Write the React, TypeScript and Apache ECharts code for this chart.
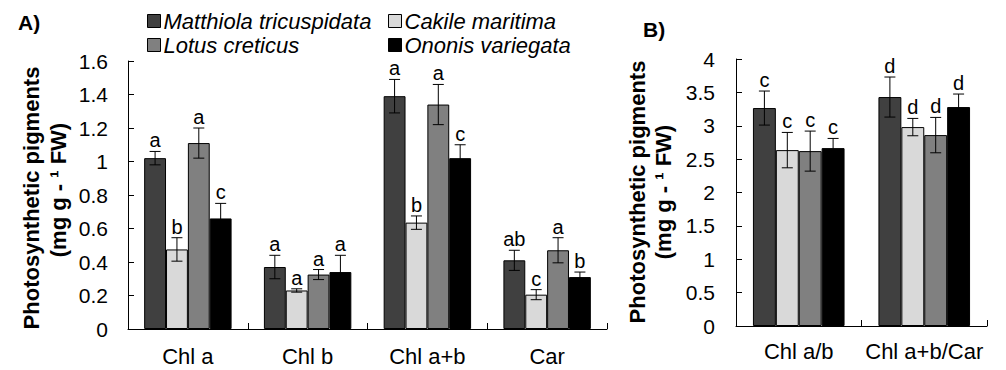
import React, { useEffect, useRef } from "react";
import * as echarts from "echarts";

const seriesNames = ["Matthiola tricuspidata", "Cakile maritima", "Lotus creticus", "Ononis variegata"];
const seriesColors = ["#404040", "#d9d9d9", "#808080", "#000000"];

const categoriesA = ["Chl a", "Chl b", "Chl a+b", "Car"];
const matthiolaA = [1.02, 0.37, 1.39, 0.41];
const cakileA = [0.475, 0.23, 0.635, 0.205];
const lotusA = [1.11, 0.325, 1.34, 0.47];
const ononisA = [0.66, 0.34, 1.02, 0.31];
const matthiolaErrA = [0.04, 0.07, 0.1, 0.06];
const cakileErrA = [0.07, 0.01, 0.04, 0.03];
const lotusErrA = [0.09, 0.03, 0.12, 0.075];
const ononisErrA = [0.09, 0.1, 0.08, 0.03];
const matthiolaLetA = ["a", "a", "a", "ab"];
const cakileLetA = ["b", "a", "b", "c"];
const lotusLetA = ["a", "a", "a", "a"];
const ononisLetA = ["c", "a", "c", "b"];

const categoriesB = ["Chl a/b", "Chl a+b/Car"];
const matthiolaB = [3.265, 3.43];
const cakileB = [2.635, 2.98];
const lotusB = [2.62, 2.86];
const ononisB = [2.665, 3.28];
const matthiolaErrB = [0.255, 0.3];
const cakileErrB = [0.265, 0.13];
const lotusErrB = [0.3, 0.265];
const ononisErrB = [0.145, 0.195];
const matthiolaLetB = ["c", "d"];
const cakileLetB = ["c", "d"];
const lotusLetB = ["c", "d"];
const ononisLetB = ["c", "d"];

const yTicksA = { min: 0, max: 1.6, interval: 0.2 };
const yTicksB = { min: 0, max: 4, interval: 0.5 };

const FONT = '"Liberation Sans", Arial, sans-serif';
const GAP = 0.27;

export default function App() {
  const ref = useRef<HTMLDivElement>(null);
  useEffect(() => {
    if (!ref.current) return;
    const chart = echarts.init(ref.current, undefined, { renderer: "svg" });

    const valsA = [matthiolaA, cakileA, lotusA, ononisA];
    const errsA = [matthiolaErrA, cakileErrA, lotusErrA, ononisErrA];
    const letsA = [matthiolaLetA, cakileLetA, lotusLetA, ononisLetA];
    const valsB = [matthiolaB, cakileB, lotusB, ononisB];
    const errsB = [matthiolaErrB, cakileErrB, lotusErrB, ononisErrB];
    const letsB = [matthiolaLetB, cakileLetB, lotusLetB, ononisLetB];

    const makeErr = (idx: number, axis: number, vals: number[], errs: number[], lets: string[]) => ({
      type: "custom",
      xAxisIndex: axis,
      yAxisIndex: axis,
      z: 5,
      silent: true,
      data: vals.map((v, i) => [i, v, errs[i]]),
      renderItem: (params: any, api: any) => {
        const cat = api.value(0);
        const v = api.value(1);
        const e = api.value(2);
        const band = api.size([1, 0])[0];
        const group = band * (1 - GAP);
        const bw = group / 4;
        const cx = api.coord([cat, 0])[0] - group / 2 + bw * (idx + 0.5);
        const yt = api.coord([cat, v + e])[1];
        const yb = api.coord([cat, v - e])[1];
        const cap = 5.5;
        const ls = { stroke: "#000", lineWidth: 1 };
        return {
          type: "group",
          children: [
            { type: "line", shape: { x1: cx, y1: yt, x2: cx, y2: yb }, style: ls },
            { type: "line", shape: { x1: cx - cap, y1: yt, x2: cx + cap, y2: yt }, style: ls },
            { type: "line", shape: { x1: cx - cap, y1: yb, x2: cx + cap, y2: yb }, style: ls },
            {
              type: "text",
              x: cx,
              y: yt - 1,
              style: {
                text: lets[params.dataIndex],
                fill: "#000",
                font: `20px ${FONT}`,
                align: "center",
                verticalAlign: "bottom",
              },
            },
          ],
        };
      },
    });

    const series: any[] = [];
    for (let k = 0; k < 4; k++) {
      series.push({
        name: seriesNames[k],
        type: "bar",
        xAxisIndex: 0,
        yAxisIndex: 0,
        data: valsA[k],
        barGap: "0%",
        barCategoryGap: "27%",
        itemStyle: { color: seriesColors[k], borderColor: "#000", borderWidth: 1 },
      });
    }
    for (let k = 0; k < 4; k++) {
      series.push({
        name: seriesNames[k],
        type: "bar",
        xAxisIndex: 1,
        yAxisIndex: 1,
        data: valsB[k],
        barGap: "0%",
        barCategoryGap: "27%",
        itemStyle: { color: seriesColors[k], borderColor: "#000", borderWidth: 1 },
      });
    }
    for (let k = 0; k < 4; k++) series.push(makeErr(k, 0, valsA[k], errsA[k], letsA[k]));
    for (let k = 0; k < 4; k++) series.push(makeErr(k, 1, valsB[k], errsB[k], letsB[k]));

    const axisLine = { show: true, lineStyle: { color: "#000", width: 1 } };
    const axisTick = { show: true, inside: true, length: 6, lineStyle: { color: "#000" } };

    const legendCommon = {
      orient: "vertical",
      itemWidth: 13,
      itemHeight: 13,
      itemGap: 2,
      icon: "rect",
      padding: 0,
      selectedMode: false,
      itemStyle: { borderColor: "#000", borderWidth: 1 },
      textStyle: { fontSize: 22, fontStyle: "italic", fontFamily: FONT, color: "#000", padding: [0, 0, 0, -2] },
    };

    const titleText = (x: number, y: number, text: string) => ({
      type: "text",
      x,
      y,
      rotation: Math.PI / 2,
      style: {
        text,
        fill: "#000",
        font: `bold 22px ${FONT}`,
        align: "center",
        verticalAlign: "middle",
      },
    });

    chart.setOption({
      animation: false,
      backgroundColor: "#fff",
      legend: [
        { ...legendCommon, left: 147, top: 10, data: [seriesNames[0], seriesNames[2]] },
        { ...legendCommon, left: 388, top: 10, data: [seriesNames[1], seriesNames[3]] },
      ],
      grid: [
        { left: 128, top: 61, width: 479, height: 268 },
        { left: 736, top: 59, width: 251, height: 267 },
      ],
      xAxis: [
        {
          type: "category",
          gridIndex: 0,
          data: categoriesA,
          axisLine,
          axisTick,
          axisLabel: { fontSize: 22, fontFamily: FONT, color: "#000", margin: 16, interval: 0 },
        },
        {
          type: "category",
          gridIndex: 1,
          data: categoriesB,
          axisLine,
          axisTick,
          axisLabel: { fontSize: 22, fontFamily: FONT, color: "#000", margin: 14, interval: 0 },
        },
      ],
      yAxis: [
        {
          type: "value",
          gridIndex: 0,
          ...yTicksA,
          axisLine,
          axisTick,
          splitLine: { show: false },
          axisLabel: { fontSize: 21, fontFamily: FONT, color: "#000", margin: 20 },
        },
        {
          type: "value",
          gridIndex: 1,
          ...yTicksB,
          axisLine,
          axisTick,
          splitLine: { show: false },
          axisLabel: { fontSize: 21, fontFamily: FONT, color: "#000", margin: 21 },
        },
      ],
      graphic: [
        { type: "text", left: 18, top: 12, style: { text: "A)", fill: "#000", font: `bold 21px ${FONT}` } },
        { type: "text", left: 643, top: 19, style: { text: "B)", fill: "#000", font: `bold 21px ${FONT}` } },
        titleText(31, 198, "Photosynthetic pigments"),
        titleText(58, 190, "(mg g - ¹ FW)"),
        titleText(637, 192, "Photosynthetic pigments"),
        titleText(663, 192, "(mg g - ¹ FW)"),
      ],
      series,
    });
    return () => chart.dispose();
  }, []);
  return (
    <div
      ref={ref}
      style={{ position: "absolute", left: 0, top: 0, width: 1006, height: 370, background: "#fff" }}
    />
  );
}
